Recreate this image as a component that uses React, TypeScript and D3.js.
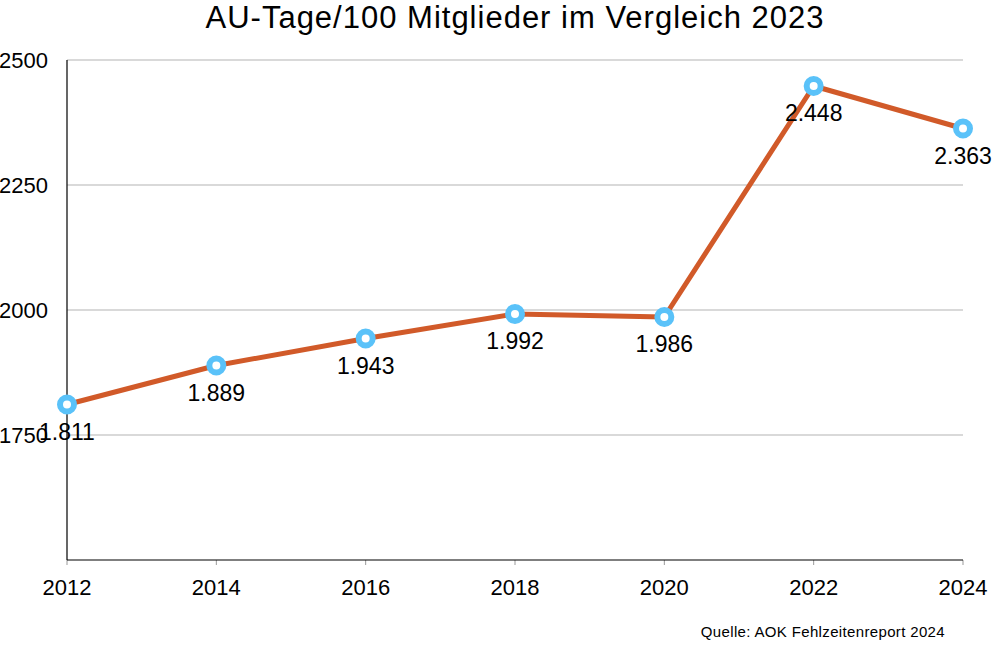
import React from "react";
import * as d3 from "d3";

const years = [2012, 2014, 2016, 2018, 2020, 2022, 2024];
const values = [1811, 1889, 1943, 1992, 1986, 2448, 2363];
const valueLabels = ["1.811", "1.889", "1.943", "1.992", "1.986", "2.448", "2.363"];
const yTicks = [1750, 2000, 2250, 2500];
const title = "AU-Tage/100 Mitglieder im Vergleich 2023";
const source = "Quelle: AOK Fehlzeitenreport 2024";

const W = 993;
const H = 646;
const M = { left: 67, right: 963, top: 60, bottom: 560 };
const FONT = "'Liberation Sans', Arial, Helvetica, sans-serif";

export default function App() {
  const x = d3.scaleLinear().domain([2012, 2024]).range([M.left, M.right]);
  const y = d3.scaleLinear().domain([1500, 2500]).range([M.bottom, M.top]);
  const line = d3
    .line<number>()
    .x((_, i) => x(years[i]))
    .y((d) => y(d));

  return (
    <svg
      width={W}
      height={H}
      style={{ position: "absolute", left: 0, top: 0, background: "#fff" }}
      fontFamily={FONT}
    >
      <text x={515} y={28} textAnchor="middle" fontSize={31} letterSpacing={1} fill="#000">
        {title}
      </text>
      {yTicks.map((t) => (
        <g key={t}>
          <line x1={M.left} x2={M.right} y1={y(t)} y2={y(t)} stroke="#b3b3b3" strokeWidth={1} />
          <text x={48} y={y(t) + 8} textAnchor="end" fontSize={22} fill="#000">
            {t}
          </text>
        </g>
      ))}
      {years.map((yr) => (
        <g key={yr}>
          <line x1={x(yr)} x2={x(yr)} y1={M.bottom} y2={M.bottom + 5} stroke="#999" strokeWidth={1} />
          <text x={x(yr)} y={595} textAnchor="middle" fontSize={22} fill="#000">
            {yr}
          </text>
        </g>
      ))}
      <line x1={M.left} x2={M.left} y1={M.top} y2={M.bottom} stroke="#000" strokeWidth={1.2} />
      <line x1={M.left} x2={M.right} y1={M.bottom} y2={M.bottom} stroke="#000" strokeWidth={1.2} />
      <path d={line(values) || ""} fill="none" stroke="#D15A29" strokeWidth={5} strokeLinejoin="round" />
      {values.map((v, i) => (
        <circle key={i} cx={x(years[i])} cy={y(v)} r={7} fill="#fff" stroke="#5AC2F9" strokeWidth={6} />
      ))}
      {values.map((v, i) => (
        <text key={"l" + i} x={x(years[i])} y={y(v) + 35} textAnchor="middle" fontSize={23} fill="#000">
          {valueLabels[i]}
        </text>
      ))}
      <text x={945} y={637} textAnchor="end" fontSize={15} letterSpacing={0.35} fill="#000">
        {source}
      </text>
    </svg>
  );
}
